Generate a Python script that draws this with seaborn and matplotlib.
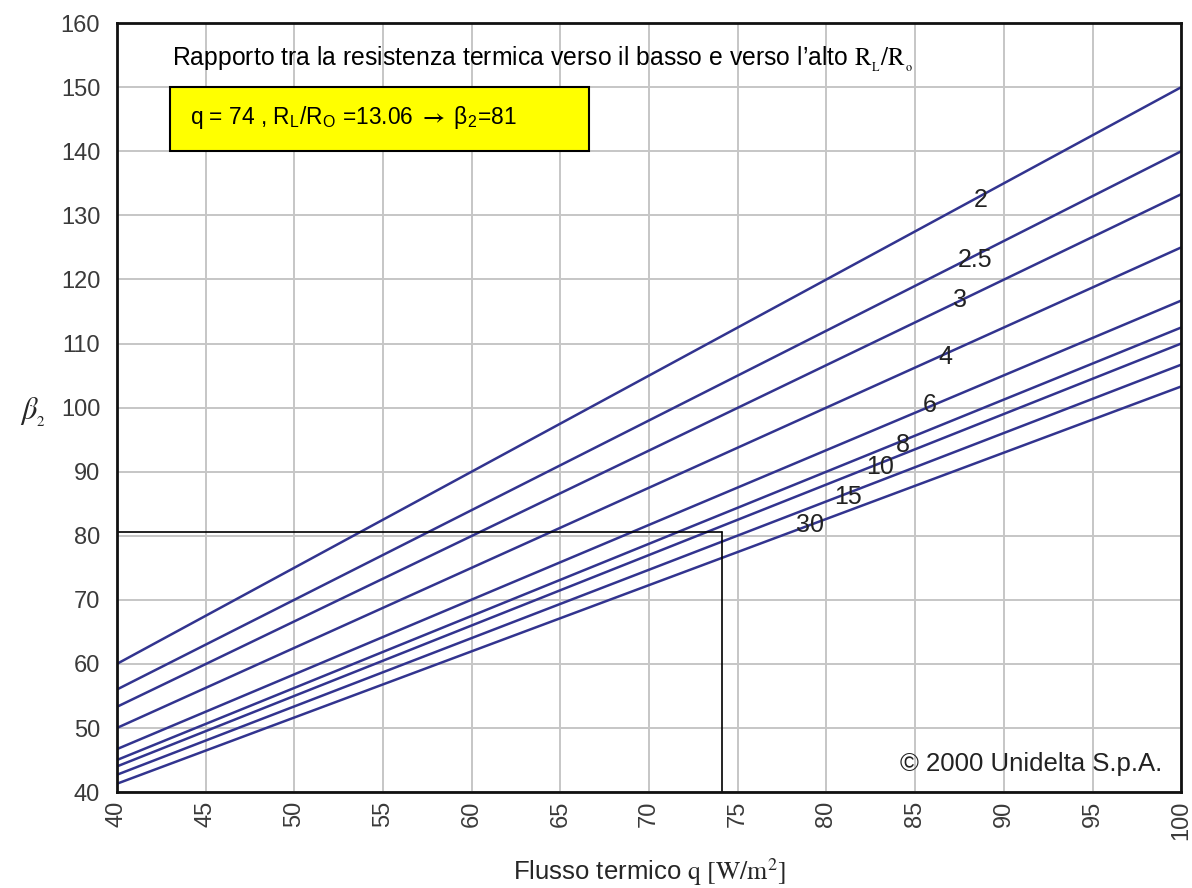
import numpy as np
import pandas as pd
import matplotlib
matplotlib.use("Agg")
import matplotlib.pyplot as plt
from matplotlib.patches import Rectangle
import seaborn as sns

# -------------------------------
# Data
# -------------------------------
q_ends = [40, 100]
ratios = ["2", "2.5", "3", "4", "6", "8", "10", "15", "30"]
beta_at_40 = [60.0, 56.0, 53.3, 50.0, 46.7, 45.0, 44.0, 42.7, 41.3]
beta_at_100 = [150.0, 140.0, 133.3, 125.0, 116.7, 112.5, 110.0, 106.7, 103.3]

# curve label positions (q, beta)
label_q = [88.7, 88.4, 87.5, 86.7, 85.8, 84.3, 83.0, 81.2, 79.1]
label_beta = [132.4, 123.0, 116.8, 107.9, 100.4, 94.1, 90.7, 86.0, 81.7]

# example reading
q_read = 74.1
beta_read = 80.6

x_ticks = list(range(40, 101, 5))
y_ticks = list(range(40, 161, 10))

rows = []
for r, b0, b1 in zip(ratios, beta_at_40, beta_at_100):
    rows.append({"q": q_ends[0], "beta": b0, "ratio": r})
    rows.append({"q": q_ends[1], "beta": b1, "ratio": r})
df = pd.DataFrame(rows)

# -------------------------------
# Style
# -------------------------------
sns.set_style("white")
plt.rcParams["font.family"] = ["Liberation Sans", "DejaVu Sans"]
plt.rcParams["mathtext.fontset"] = "stix"

LINE_COLOR = "#32348f"
GRID_COLOR = "#c6c6c6"
TICK_COLOR = "#3a3a3a"

fig = plt.figure(figsize=(11.92, 8.88), dpi=100)
ax = fig.add_axes([0.098, 0.108, 0.893, 0.866])

sns.lineplot(data=df, x="q", y="beta", hue="ratio", hue_order=ratios,
             palette=[LINE_COLOR] * len(ratios), linewidth=1.8,
             legend=False, ax=ax)

ax.set_xlabel("")
ax.set_ylabel("")
ax.set_xlim(40, 100)
ax.set_ylim(40, 160)
ax.set_xticks(x_ticks)
ax.set_yticks(y_ticks)
ax.set_xticklabels([str(t) for t in x_ticks], rotation=90, fontsize=17, color=TICK_COLOR)
ax.set_yticklabels([str(t) for t in y_ticks], fontsize=17, color=TICK_COLOR)
ax.tick_params(axis="y", length=0, pad=12)
ax.tick_params(axis="x", length=0, pad=6)
ax.grid(True, color=GRID_COLOR, linewidth=1.4)
ax.set_axisbelow(True)
for s in ax.spines.values():
    s.set_color("#111111")
    s.set_linewidth(2)

# curve labels
for r, lq, lb in zip(ratios, label_q, label_beta):
    ax.text(lq, lb, r, fontsize=18, color="#222222", ha="center", va="center")

# example reading lines
ax.plot([40, q_read], [beta_read, beta_read], color="black", linewidth=1.2)
ax.plot([q_read, q_read], [40, beta_read], color="black", linewidth=1.2)

# header text and yellow box
ax.text(43.1, 154.4,
        "Rapporto tra la resistenza termica verso il basso e verso l\u2019alto $\\mathrm{R_{_L}/R_{_o}}$",
        fontsize=17.8, color="black", ha="left", va="center")
ax.add_patch(Rectangle((43.0, 140.0), 23.6, 10.0, facecolor="#ffff00",
                       edgecolor="black", linewidth=1.5, zorder=3))
ax.text(44.1, 145.2,
        "q = 74 , R$_\\mathregular{L}$/R$_\\mathregular{O}$ =13.06 $\\mathbf{\\rightarrow}$ \u03b2$_\\mathregular{2}$=81",
        fontsize=16.4, color="black", ha="left", va="center", zorder=4)

# copyright
ax.text(98.9, 44.4, "\u00a9 2000 Unidelta S.p.A.", fontsize=18.5, color="#222222",
        ha="right", va="center")

# axis labels
fig.text(0.017, 0.535, "$\\beta_{_2}$", fontsize=22, ha="left", va="center")
fig.text(0.545, 0.018, "Flusso termico $\\mathrm{q\\ [W/m^{2}]}$", fontsize=18.5,
         ha="center", va="center")

fig.savefig("out.png", dpi=100)
